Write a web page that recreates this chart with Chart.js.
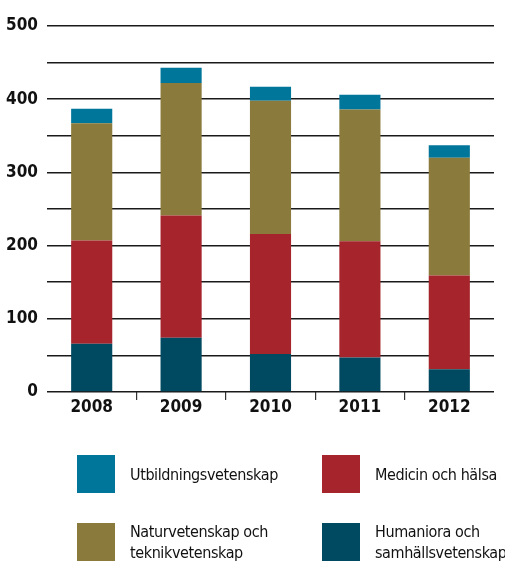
<!DOCTYPE html>
<html lang="sv">
<head>
    <meta charset="UTF-8">
    <title>Stacked bars 2008-2012</title>
    <script src="https://cdn.jsdelivr.net/npm/chart.js"></script>
    <style>
        body { margin: 0; background: #fff; }
        .wrap { position: relative; width: 505px; height: 562px; overflow: hidden; }
        .chart-box { position: absolute; left: 0; top: 0; width: 505px; height: 425px; }
        .legend { position: absolute; left: 0; top: 0; width: 505px; height: 562px; pointer-events: none; }
        .legend .item { position: absolute; display: flex; align-items: flex-start; }
        .legend .sw { width: 38px; height: 38px; flex: none; }
        .legend .txt {
            margin-left: 15px;
            font-family: "Liberation Sans Narrow", "DejaVu Sans Condensed", sans-serif;
            font-size: 16px;
            letter-spacing: -0.4px;
            line-height: 21px;
            white-space: nowrap;
            color: #111;
        }
    </style>
</head>
<body>

<div class="wrap">
    <div class="chart-box"><canvas id="barChart"></canvas></div>
    <div class="legend" id="legend"></div>
</div>

<script>
    // år
    const years = ['2008', '2009', '2010', '2011', '2012'];

    // serier, nedifrån och upp
    const humaniora = [66, 74, 52, 47, 31];
    const medicin = [141, 167, 164, 159, 128];
    const natur = [160, 181, 182, 180, 161];
    const utbildning = [20, 21, 19, 20, 17];

    const seriesNames = {
        humaniora: 'Humaniora och samhällsvetenskap',
        medicin: 'Medicin och hälsa',
        natur: 'Naturvetenskap och teknikvetenskap',
        utbildning: 'Utbildningsvetenskap'
    };
    const colors = {
        humaniora: '#004a61',
        medicin: '#a6242b',
        natur: '#8a7a3b',
        utbildning: '#00769b'
    };

    const yMax = 500;
    const yStep = 50;

    const font = '"Liberation Sans Narrow", "DejaVu Sans Condensed", sans-serif';

    const ctx = document.getElementById('barChart').getContext('2d');
    new Chart(ctx, {
        type: 'bar',
        data: {
            labels: years,
            datasets: [
                { label: seriesNames.humaniora, data: humaniora, backgroundColor: colors.humaniora },
                { label: seriesNames.medicin, data: medicin, backgroundColor: colors.medicin },
                { label: seriesNames.natur, data: natur, backgroundColor: colors.natur },
                { label: seriesNames.utbildning, data: utbildning, backgroundColor: colors.utbildning }
            ]
        },
        options: {
            responsive: true,
            maintainAspectRatio: false,
            animation: false,
            layout: { padding: { top: 26, right: 11, left: 0, bottom: 0 } },
            datasets: {
                bar: { categoryPercentage: 1, barPercentage: 0.46, borderWidth: 0 }
            },
            plugins: {
                legend: { display: false },
                tooltip: { enabled: false }
            },
            scales: {
                x: {
                    stacked: true,
                    border: { display: false },
                    grid: {
                        offset: true,
                        drawOnChartArea: false,
                        drawTicks: true,
                        tickLength: 8,
                        lineWidth: 1.2,
                        color: c => (c.index === undefined || c.index === 0) ? 'rgba(0,0,0,0)' : '#333'
                    },
                    ticks: {
                        padding: -3,
                        color: '#111',
                        font: { family: font, size: 17, weight: 'bold' }
                    },
                    afterFit: s => { s.height = 33; }
                },
                y: {
                    stacked: true,
                    min: 0,
                    max: yMax,
                    border: { display: false },
                    grid: {
                        drawTicks: false,
                        color: '#1a1a1a',
                        lineWidth: 1.6
                    },
                    ticks: {
                        stepSize: yStep,
                        padding: 9,
                        color: '#111',
                        font: { family: font, size: 17, weight: 'bold' },
                        callback: v => (v % 100 === 0 ? String(v) : '')
                    },
                    afterFit: s => { s.width = 47; }
                }
            }
        }
    });

    // legend i två kolumner
    const legendItems = [
        { key: 'utbildning', left: 77, top: 455 },
        { key: 'medicin', left: 322, top: 455 },
        { key: 'natur', left: 77, top: 523 },
        { key: 'humaniora', left: 322, top: 523 }
    ];
    const legendText = {
        utbildning: 'Utbildningsvetenskap',
        medicin: 'Medicin och hälsa',
        natur: 'Naturvetenskap och<br>teknikvetenskap',
        humaniora: 'Humaniora och<br>samhällsvetenskap'
    };
    const legend = document.getElementById('legend');
    legend.innerHTML = legendItems.map(it => {
        const twoLines = legendText[it.key].includes('<br>');
        const pad = twoLines ? -2 : 9;
        return `<div class="item" style="left:${it.left}px;top:${it.top}px">
            <div class="sw" style="background:${colors[it.key]}"></div>
            <div class="txt" style="margin-top:${pad}px">${legendText[it.key]}</div>
        </div>`;
    }).join('');
</script>

</body>
</html>
